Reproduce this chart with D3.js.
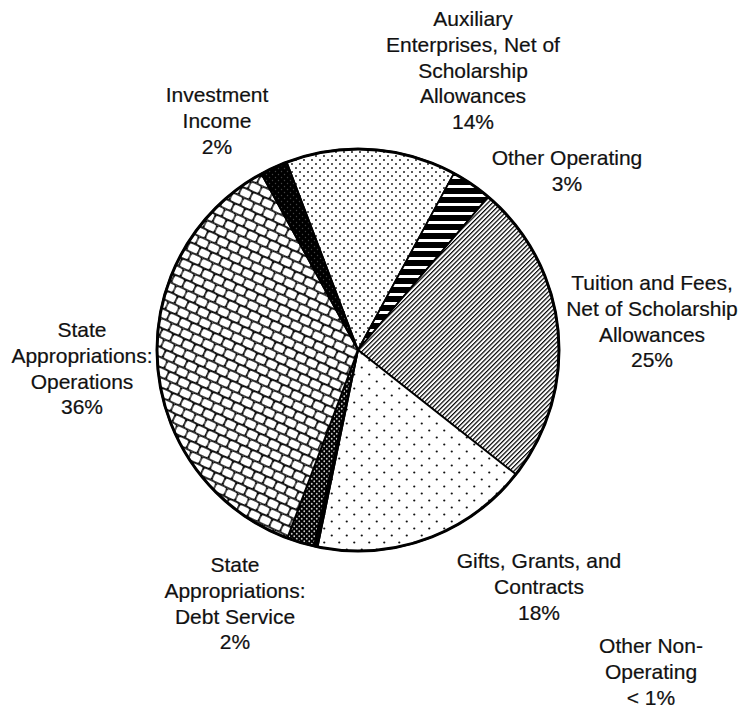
<!DOCTYPE html>
<html>
<head>
<meta charset="utf-8">
<script src="https://cdn.jsdelivr.net/npm/d3@7"></script>
<style>
  body { margin: 0; background: #fff; }
  svg { display: block; }
</style>
</head>
<body>
<svg id="chart"></svg>
<script>
// slices, clockwise from the Auxiliary/Investment boundary
var categories = ["Auxiliary", "Other Operating", "Tuition and Fees", "Gifts, Grants, and Contracts",
  "Other Non-Operating", "State Appropriations: Debt Service", "State Appropriations: Operations", "Investment Income"];
var shares = [13.7, 3.3, 24.4, 17.6, 0.3, 2.2, 36.3, 2.2];
var shareLabels = ["14%", "3%", "25%", "18%", "< 1%", "2%", "36%", "2%"];
var labelLines = [
  ["Auxiliary", "Enterprises, Net of", "Scholarship", "Allowances"],
  ["Other Operating"],
  ["Tuition and Fees,", "Net of Scholarship", "Allowances"],
  ["Gifts, Grants, and", "Contracts"],
  ["Other Non-", "Operating"],
  ["State", "Appropriations:", "Debt Service"],
  ["State", "Appropriations:", "Operations"],
  ["Investment", "Income"]
];
var fills = ["url(#pDense)", "url(#pHoriz)", "url(#pDiag)", "url(#pSparse)", "#000",
  "url(#pDarkDots)", "url(#pScale)", "url(#pDarkGrey)"];

// layout: label block centre x and first baseline y
var labelAnchors = [[473, 26], [567, 165], [652, 290], [539, 568], [651, 653], [235, 572], [82, 337], [217, 102]];

var width = 740, height = 709, cx = 358, cy = 350, radius = 201, lineH = 25.8;
var startDeg = -20.8;

var svg = d3.select("#chart").attr("width", width).attr("height", height);
var defs = svg.append("defs");

// dense dots (auxiliary)
var p = defs.append("pattern").attr("id", "pDense").attr("patternUnits", "userSpaceOnUse").attr("width", 8).attr("height", 8);
p.append("rect").attr("width", 8).attr("height", 8).attr("fill", "#fff");
p.append("circle").attr("cx", 2).attr("cy", 2).attr("r", 0.95).attr("fill", "#111");
p.append("circle").attr("cx", 6).attr("cy", 6).attr("r", 0.95).attr("fill", "#111");

// sparse dots (gifts)
p = defs.append("pattern").attr("id", "pSparse").attr("patternUnits", "userSpaceOnUse").attr("width", 15).attr("height", 14);
p.append("rect").attr("width", 15).attr("height", 14).attr("fill", "#fff");
p.append("circle").attr("cx", 3.75).attr("cy", 3.5).attr("r", 1.1).attr("fill", "#111");
p.append("circle").attr("cx", 11.25).attr("cy", 10.5).attr("r", 1.1).attr("fill", "#111");

// horizontal bars (other operating)
p = defs.append("pattern").attr("id", "pHoriz").attr("patternUnits", "userSpaceOnUse").attr("width", 9).attr("height", 9);
p.append("rect").attr("width", 9).attr("height", 9).attr("fill", "#fff");
p.append("rect").attr("y", 0).attr("width", 9).attr("height", 6).attr("fill", "#000");

// thin diagonal lines (tuition)
p = defs.append("pattern").attr("id", "pDiag").attr("patternUnits", "userSpaceOnUse").attr("width", 3.2).attr("height", 10)
  .attr("patternTransform", "rotate(45)");
p.append("rect").attr("width", 3.2).attr("height", 10).attr("fill", "#fff");
p.append("rect").attr("x", 0).attr("width", 1.2).attr("height", 10).attr("fill", "#000");

// black with white dots (debt service)
p = defs.append("pattern").attr("id", "pDarkDots").attr("patternUnits", "userSpaceOnUse").attr("width", 5).attr("height", 5);
p.append("rect").attr("width", 5).attr("height", 5).attr("fill", "#000");
p.append("circle").attr("cx", 1.25).attr("cy", 1.25).attr("r", 0.9).attr("fill", "#ccc");
p.append("circle").attr("cx", 3.75).attr("cy", 3.75).attr("r", 0.9).attr("fill", "#ccc");

// black with grey dots (investment)
p = defs.append("pattern").attr("id", "pDarkGrey").attr("patternUnits", "userSpaceOnUse").attr("width", 6).attr("height", 6);
p.append("rect").attr("width", 6).attr("height", 6).attr("fill", "#000");
p.append("circle").attr("cx", 1.5).attr("cy", 1.5).attr("r", 0.7).attr("fill", "#444");
p.append("circle").attr("cx", 4.5).attr("cy", 4.5).attr("r", 0.7).attr("fill", "#444");

// shingle cells (operations), neighbouring cells share one outline
p = defs.append("pattern").attr("id", "pScale").attr("patternUnits", "userSpaceOnUse").attr("width", 12).attr("height", 18)
  .attr("patternTransform", "rotate(25)");
p.append("rect").attr("width", 12).attr("height", 18).attr("fill", "#fff");
[[0, 0], [-6, 9], [6, 9]].forEach(function(o) {
  p.append("rect").attr("x", o[0]).attr("y", o[1]).attr("width", 12).attr("height", 9).attr("rx", 3)
    .attr("fill", "#fff").attr("stroke", "#000").attr("stroke-width", 1.3);
});

var pie = d3.pie().sort(null).value(function(d) { return d; })
  .startAngle(startDeg * Math.PI / 180).endAngle(startDeg * Math.PI / 180 + 2 * Math.PI);
var arc = d3.arc().innerRadius(0).outerRadius(radius);

var g = svg.append("g").attr("transform", "translate(" + cx + "," + cy + ")");
g.selectAll("path.slice").data(pie(shares)).enter().append("path")
  .attr("class", "slice")
  .attr("d", arc)
  .attr("fill", function(d, i) { return fills[i]; })
  .attr("stroke", "#000").attr("stroke-width", 1.8).attr("stroke-linejoin", "round");
g.append("circle").attr("r", radius).attr("fill", "none").attr("stroke", "#000").attr("stroke-width", 3);

labelLines.forEach(function(lines, i) {
  var t = svg.append("text").attr("text-anchor", "middle")
    .style("font-family", "'Liberation Sans', Arial, sans-serif").style("font-size", "21px")
    .attr("fill", "#111").attr("stroke", "#111").attr("stroke-width", 0.2);
  lines.concat([shareLabels[i]]).forEach(function(s, j) {
    t.append("tspan").attr("x", labelAnchors[i][0]).attr("y", labelAnchors[i][1] + j * lineH).text(s);
  });
});
</script>
</body>
</html>
